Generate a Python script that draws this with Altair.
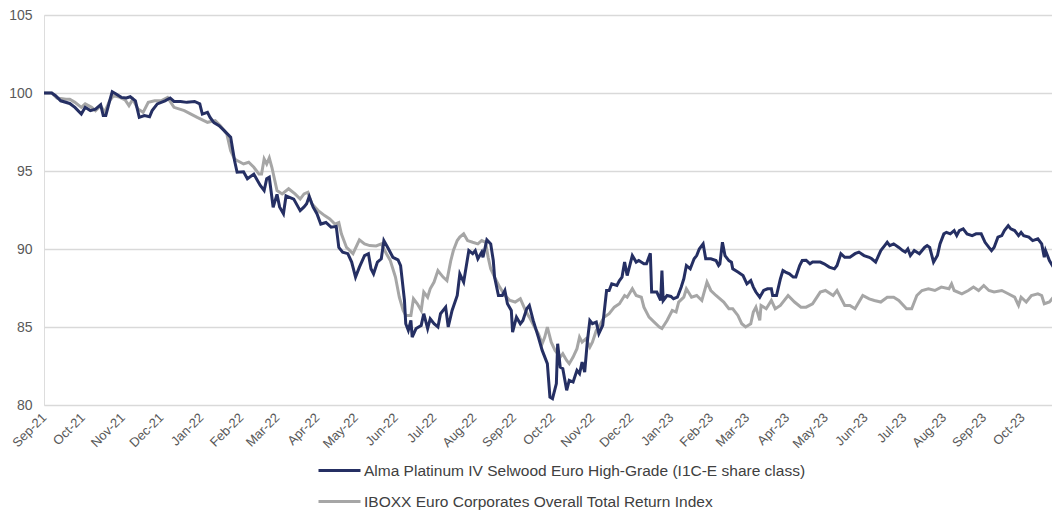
import altair as alt
import pandas as pd

START = "2021-09-01"
END = "2023-10-24"

FUND = "Alma Platinum IV Selwood Euro High-Grade (I1C-E share class)"
INDEX = "IBOXX Euro Corporates Overall Total Return Index"

# days since START
fund_days = [0, 6, 9, 13, 20, 24, 29, 32, 36, 40, 44, 46, 48, 51, 53, 56, 60, 64, 67, 71,
             74, 78, 82, 84, 88, 94, 98, 101, 106, 111, 117, 121, 123, 127, 129, 132, 136, 140, 145, 148,
             150, 155, 158, 163, 168, 171, 173, 175, 178, 181, 183, 186, 188, 194, 199, 202, 204, 206, 209, 212,
             215, 219, 223, 227, 229, 232, 236, 239, 242, 245, 249, 252, 254, 256, 259, 262, 264, 267, 271, 275,
             277, 278, 280, 281, 283, 285, 286, 289, 293, 295, 298, 300, 303, 306, 308, 312, 314, 317, 321, 323,
             326, 330, 333, 335, 337, 340, 341, 344, 347, 349, 350, 353, 356, 358, 360, 363, 364, 367, 370, 372,
             375, 377, 380, 384, 387, 391, 393, 395, 398, 399, 401, 403, 406, 408, 411, 414, 416, 418, 420, 422,
             424, 426, 429, 431, 434, 437, 439, 441, 445, 447, 449, 451, 453, 457, 460, 462, 466, 468, 471, 472,
             476, 479, 480, 481, 484, 487, 489, 492, 495, 497, 499, 502, 505, 507, 509, 512, 514, 518, 522, 524,
             525, 527, 529, 532, 534, 535, 539, 543, 546, 549, 551, 553, 556, 559, 562, 565, 566, 569, 572, 574,
             576, 579, 582, 584, 587, 589, 592, 595, 597, 603, 606, 610, 614, 616, 619, 622, 626, 630, 633, 637,
             641, 643, 646, 650, 653, 655, 657, 660, 664, 667, 669, 671, 673, 676, 680, 684, 686, 688, 691, 694,
             696, 699, 701, 704, 707, 709, 711, 714, 717, 721, 724, 728, 731, 734, 736, 738, 741, 744, 746, 749,
             751, 754, 757, 759, 761, 765, 768, 772, 775, 777, 778, 781, 784]
fund_vals = [100.0, 100.0, 99.83, 99.5, 99.33, 99.08, 98.65, 99.08, 98.87, 98.97, 99.25, 98.55, 98.55, 99.5, 100.08, 99.94, 99.72, 99.68, 99.76, 99.5,
             98.44, 98.55, 98.48, 98.87, 99.3, 99.5, 99.68, 99.46, 99.46, 99.4, 99.46, 99.3, 98.65, 98.76, 98.44, 98.1, 97.9, 97.59, 97.16, 95.67,
             94.92, 94.95, 94.5, 94.8, 94.07, 93.75, 94.5, 94.6, 92.68, 93.5, 92.7, 92.26, 93.4, 93.2, 92.46, 92.7, 92.9, 93.36, 92.7, 92.26,
             91.6, 91.7, 91.4, 91.45, 90.1, 89.8, 89.7, 89.16, 88.2, 88.84, 89.58, 89.7, 88.73, 88.41, 89.16, 89.37, 90.54, 90.1, 89.47, 89.3,
             88.94, 88.2, 86.7, 85.21, 84.78, 85.42, 84.35, 84.9, 85.1, 85.85, 84.9, 85.53, 85.21, 85.0, 85.85, 86.27, 85.0, 86.06, 87.02, 88.41,
             87.88, 89.9, 89.7, 89.9, 89.37, 89.8, 89.47, 90.59, 90.33, 89.26, 88.2, 87.02, 87.02, 87.34, 86.49, 86.06, 84.67, 85.63, 85.21, 85.42,
             86.17, 86.38, 85.42, 84.35, 83.5, 82.65, 80.51, 80.41, 81.37, 83.93, 82.43, 82.33, 80.94, 81.58, 81.47, 82.22, 82.01, 82.75, 82.11, 84.03,
             85.42, 85.21, 85.31, 84.57, 85.1, 87.34, 87.34, 87.77, 87.66, 87.98, 88.2, 89.16, 88.3, 89.58, 89.16, 89.26, 89.05, 89.05, 89.73, 87.24,
             87.24, 86.7, 88.62, 86.7, 87.02, 86.96, 86.81, 86.91, 87.56, 88.09, 88.94, 88.73, 89.37, 89.58, 90.0, 90.33, 89.37, 89.37, 89.26, 88.94,
             89.05, 90.43, 89.58, 89.26, 89.16, 88.73, 88.52, 88.3, 87.77, 87.98, 87.56, 87.24, 86.91, 87.34, 87.45, 87.45, 87.02, 87.02, 88.09, 88.62,
             88.52, 88.41, 88.2, 88.2, 88.94, 89.26, 89.28, 89.05, 89.16, 89.16, 89.05, 88.84, 88.73, 88.94, 89.7, 89.47, 89.47, 89.7, 89.8, 89.58,
             89.47, 89.37, 89.16, 89.9, 90.22, 90.43, 90.22, 90.33, 90.1, 89.9, 89.8, 90.0, 89.58, 89.9, 89.7, 90.1, 90.22, 90.1, 89.16, 89.58,
             90.33, 90.97, 91.07, 90.97, 91.18, 90.86, 91.18, 91.29, 90.97, 90.86, 90.97, 90.97, 90.43, 90.1, 89.9, 90.1, 90.76, 90.86, 91.18, 91.5,
             91.29, 91.18, 90.86, 91.07, 90.86, 90.76, 90.54, 90.65, 90.33, 89.47, 89.9, 89.26, 88.84]

index_days = [0, 6, 10, 17, 20, 24, 29, 32, 37, 40, 44, 47, 51, 54, 59, 63, 66, 69, 73, 77,
              81, 86, 91, 96, 101, 109, 119, 127, 133, 137, 142, 145, 148, 150, 155, 159, 163, 167, 169, 171,
              173, 175, 177, 181, 185, 190, 195, 199, 202, 205, 208, 213, 218, 222, 226, 229, 231, 235, 240, 245,
              249, 253, 258, 262, 266, 269, 273, 276, 279, 281, 285, 287, 290, 293, 295, 298, 300, 303, 306, 308,
              310, 313, 316, 318, 321, 323, 326, 329, 333, 337, 340, 343, 345, 347, 350, 354, 358, 362, 366, 370,
              374, 377, 381, 384, 387, 389, 391, 394, 397, 401, 403, 406, 408, 411, 414, 416, 418, 421, 424, 426,
              429, 431, 435, 439, 443, 447, 451, 453, 457, 460, 464, 466, 470, 474, 478, 480, 484, 488, 491, 493,
              497, 499, 503, 507, 511, 515, 518, 522, 528, 532, 535, 539, 542, 545, 549, 551, 553, 556, 557, 561,
              565, 568, 572, 578, 583, 588, 592, 597, 603, 607, 613, 616, 622, 626, 630, 636, 641, 645, 650, 655,
              660, 664, 670, 674, 678, 682, 687, 692, 697, 703, 705, 707, 713, 718, 722, 726, 730, 734, 738, 744,
              749, 754, 757, 759, 763, 767, 772, 775, 777, 781, 784]
index_vals = [100.0, 100.0, 99.68, 99.6, 99.6, 99.4, 99.08, 99.3, 99.08, 98.87, 99.19, 98.76, 99.5, 99.83, 99.72, 99.55, 99.19, 99.6, 98.97, 98.76,
              99.4, 99.5, 99.5, 99.72, 99.08, 98.87, 98.44, 98.12, 98.23, 97.9, 97.37, 96.3, 95.77, 95.67, 95.45, 95.56, 95.24, 94.8, 94.8, 95.77,
              95.45, 95.84, 95.24, 93.75, 93.53, 93.86, 93.53, 93.2, 93.53, 93.64, 92.9, 92.46, 92.14, 91.93, 91.6, 91.7, 90.97, 90.1, 89.7, 90.59,
              90.33, 90.22, 90.2, 90.33, 89.7, 89.26, 88.2, 86.91, 86.06, 85.74, 85.74, 86.81, 86.49, 86.06, 87.24, 86.91, 87.45, 87.88, 88.62, 88.41,
              88.2, 87.98, 89.26, 89.9, 90.54, 90.76, 90.97, 90.54, 90.43, 90.33, 90.54, 90.43, 89.47, 88.73, 88.2, 87.56, 87.02, 86.7, 86.6, 86.81,
              86.06, 85.63, 85.0, 84.57, 83.93, 84.35, 85.0, 84.03, 83.5, 83.07, 83.29, 82.86, 82.65, 83.07, 83.61, 84.35, 84.03, 84.25, 83.71, 84.03,
              84.78, 85.0, 85.63, 85.85, 86.27, 86.49, 87.02, 86.91, 87.45, 87.02, 86.91, 86.27, 85.63, 85.31, 85.0, 84.9, 85.42, 86.06, 85.96, 86.6,
              86.91, 87.45, 86.91, 87.02, 86.7, 87.88, 87.34, 87.02, 86.6, 86.17, 86.17, 85.74, 85.21, 85.0, 85.21, 85.96, 86.27, 85.42, 86.38, 86.17,
              86.7, 86.17, 86.38, 87.02, 86.6, 86.27, 86.27, 86.49, 87.24, 87.34, 87.02, 87.34, 86.38, 86.38, 86.17, 87.02, 86.8, 86.7, 86.6, 86.91,
              86.91, 86.7, 86.17, 86.17, 87.02, 87.34, 87.45, 87.34, 87.56, 87.45, 87.77, 87.34, 87.13, 87.34, 87.56, 87.34, 87.66, 87.34, 87.24, 87.34,
              87.13, 86.91, 86.38, 86.91, 86.6, 87.02, 87.13, 87.02, 86.49, 86.6, 86.91]

start = pd.Timestamp(START)
fund_df = pd.DataFrame({
    "date": start + pd.to_timedelta(fund_days, unit="D"),
    "value": fund_vals,
    "series": FUND,
})
index_df = pd.DataFrame({
    "date": start + pd.to_timedelta(index_days, unit="D"),
    "value": index_vals,
    "series": INDEX,
})
df = pd.concat([index_df, fund_df], ignore_index=True)
df["order"] = df["series"].map({INDEX: 0, FUND: 1})

FONT = "Liberation Sans"

chart = alt.Chart(df).mark_line(strokeWidth=3, clip=True).encode(
    x=alt.X(
        "date:T",
        scale=alt.Scale(domain=[START, END]),
        axis=alt.Axis(
            title=None,
            format="%b-%y",
            tickCount={"interval": "month", "step": 1},
            labelAngle=-45,
            labelAlign="right",
            labelBaseline="middle",
            labelFontSize=13,
            labelColor="#595959",
            labelFont=FONT,
            labelPadding=10,
            labelOverlap=False,
            labelBound=False,
            labelFlush=False,
            ticks=False,
            domain=False,
            grid=False,
        ),
    ),
    y=alt.Y(
        "value:Q",
        scale=alt.Scale(domain=[80, 105], nice=False, zero=False),
        axis=alt.Axis(
            title=None,
            values=[80, 85, 90, 95, 100, 105],
            labelFontSize=14,
            labelColor="#595959",
            labelFont=FONT,
            labelPadding=12,
            ticks=False,
            domain=False,
            gridColor="#d9d9d9",
            gridWidth=1.5,
        ),
    ),
    color=alt.Color(
        "series:N",
        scale=alt.Scale(domain=[FUND, INDEX], range=["#252f63", "#a6a6a6"]),
        legend=alt.Legend(
            title=None,
            orient="none",
            legendX=273,
            legendY=433,
            direction="vertical",
            symbolType="stroke",
            symbolSize=1764,
            symbolStrokeWidth=3,
            labelFontSize=15.5,
            labelFont=FONT,
            labelColor="#404040",
            labelOffset=2,
            rowPadding=-2,
            labelLimit=1000,
        ),
    ),
    detail="series:N",
    order="order:Q",
).properties(
    width=1008,
    height=390,
    padding=0,
).configure_view(
    stroke=None
).configure(
    background="white"
)

chart.save("out.html", embed_options={"renderer": "svg", "actions": False})
